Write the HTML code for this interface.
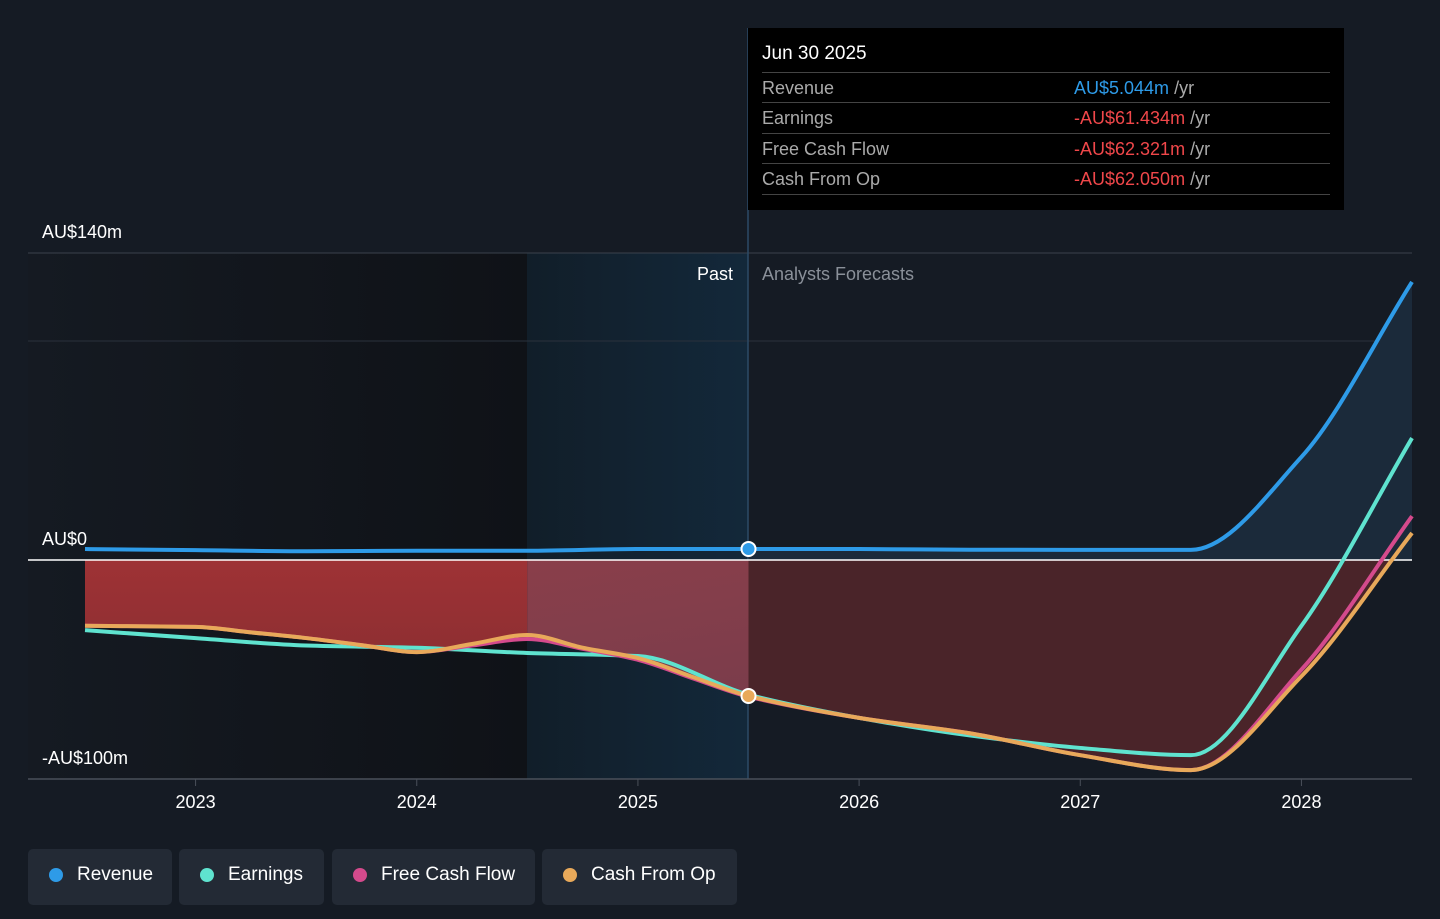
<!DOCTYPE html>
<html><head><meta charset="utf-8"><style>
body{margin:0;width:1440px;height:919px;background:#151b24;font-family:"Liberation Sans",sans-serif;overflow:hidden;position:relative}
svg{position:absolute;left:0;top:0}
.tt{position:absolute;left:748px;top:28px;width:596px;height:182px;background:#000;color:#fff}
.row{position:absolute;left:14px;width:568px;height:30px;border-top:1px solid #444;font-size:18px;line-height:30px;color:#aaa}
.row .v{position:absolute;left:312px}
.legend{position:absolute;top:849px;height:56px;background:#232a35;border-radius:5px;color:#fff;font-size:19px;line-height:52px;padding-left:49px;box-sizing:border-box}
.dot{position:absolute;left:21px;top:19px;width:14px;height:14px;border-radius:7px}
</style></head><body>
<svg width="1440" height="919">
<defs>
<linearGradient id="pastbg" x1="0" x2="1"><stop offset="0" stop-color="#151a22"/><stop offset="1" stop-color="#0f1217"/></linearGradient>
<linearGradient id="hl" x1="0" x2="1"><stop offset="0" stop-color="#111e29"/><stop offset="1" stop-color="#13283a"/></linearGradient>
<linearGradient id="redf" x1="0" x2="0" y1="0" y2="1"><stop offset="0" stop-color="#a33336"/><stop offset="1" stop-color="#7a2a2e"/></linearGradient>
<linearGradient id="bandf" x1="0" x2="1" y1="0" y2="1"><stop offset="0" stop-color="#93404a"/><stop offset="1" stop-color="#6a3a4c"/></linearGradient>
</defs>
<rect x="28" y="253" width="499" height="526" fill="url(#pastbg)"/>
<rect x="527" y="253" width="221" height="526" fill="url(#hl)"/>
<line x1="28" x2="1412" y1="253" y2="253" stroke="#3a414c"/>
<line x1="28" x2="1412" y1="341" y2="341" stroke="#2a313c"/>
<line x1="748" x2="748" y1="28" y2="779" stroke="#2c4a66" stroke-width="1.5"/>
<g id="g"></g>
<line x1="28" x2="1412" y1="779" y2="779" stroke="#4a505a" stroke-width="1.5"/>
<g id="ticks"></g>
<text x="42" y="238" fill="#fff" font-size="18">AU$140m</text>
<text x="42" y="545" fill="#fff" font-size="18">AU$0</text>
<text x="42" y="764" fill="#fff" font-size="18">-AU$100m</text>
<text x="733" y="280" fill="#fff" font-size="18" text-anchor="end">Past</text>
<text x="762" y="280" fill="#8a9099" font-size="18">Analysts Forecasts</text>
</svg>
<div class="tt">
<div style="position:absolute;left:14px;top:15px;font-size:19px">Jun 30 2025</div>
<div class="row" style="top:44px">Revenue<span class="v"><span style="color:#2e9be8">AU$5.044m</span> /yr</span></div>
<div class="row" style="top:74px">Earnings<span class="v"><span style="color:#f0474a">-AU$61.434m</span> /yr</span></div>
<div class="row" style="top:105px">Free Cash Flow<span class="v"><span style="color:#f0474a">-AU$62.321m</span> /yr</span></div>
<div class="row" style="top:135px;border-bottom:1px solid #444">Cash From Op<span class="v"><span style="color:#f0474a">-AU$62.050m</span> /yr</span></div>
</div>
<div class="legend" style="left:28px;width:144px"><span class="dot" style="background:#2e9be8"></span>Revenue</div>
<div class="legend" style="left:179px;width:145px"><span class="dot" style="background:#5fe3cf"></span>Earnings</div>
<div class="legend" style="left:332px;width:203px"><span class="dot" style="background:#d44a8c"></span>Free Cash Flow</div>
<div class="legend" style="left:542px;width:195px"><span class="dot" style="background:#e8a95a"></span>Cash From Op</div>
<script>
const years=[2023,2024,2025,2026,2027,2028];
const tRev=[2022.5,2023,2023.5,2024,2024.5,2025,2025.5,2026,2026.5,2027,2027.5,2028,2028.5];
const revenue=[5,4.5,4,4.2,4.2,5,5.04,5,4.7,4.6,4.6,47,126.8];
const tEarn=[2022.5,2023,2023.5,2024,2024.5,2025,2025.5,2026,2026.5,2027,2027.5,2028,2028.5];
const earnings=[-32,-35.6,-39,-40,-42.4,-43.8,-61.4,-72,-80,-85.7,-89,-30,55.6];
const tCash=[2022.5,2023,2023.25,2023.5,2023.75,2024,2024.25,2024.5,2024.75,2025,2025.25,2025.5,2026,2026.5,2027,2027.5,2028,2028.5];
const fcf=[-30,-30.5,-33,-35.6,-38.8,-42,-39,-36,-40.5,-45.5,-54,-62.3,-72,-79,-89,-95.8,-50,20];
const cfo=[-30,-30.5,-33,-35.6,-38.8,-42,-38.3,-34.2,-40,-44.7,-53.4,-62,-72,-79,-89,-95.8,-53,12.3];
const X=t=>85+(t-2022.5)*221.17, Y=v=>560-v*2.193;
function path(ts,vs){const p=ts.map((t,i)=>[X(t),Y(vs[i])]);const n=p.length;const d=[],m=[];
for(let i=0;i<n-1;i++)d.push((p[i+1][1]-p[i][1])/(p[i+1][0]-p[i][0]));
for(let i=0;i<n;i++){if(i==0)m.push(d[0]);else if(i==n-1)m.push(d[n-2]);else if(d[i-1]*d[i]<=0)m.push(0);else{m.push(2/(1/d[i-1]+1/d[i]));}}
let s='M'+p[0];for(let i=0;i<n-1;i++){const h=(p[i+1][0]-p[i][0])/3;s+=`C${p[i][0]+h},${p[i][1]+m[i]*h} ${p[i+1][0]-h},${p[i+1][1]-m[i+1]*h} ${p[i+1][0]},${p[i+1][1]}`;}return s;}
const g=document.getElementById('g'),NS='http://www.w3.org/2000/svg';
function add(tag,at,name){const e=document.createElementNS(NS,tag);for(const k in at)e.setAttribute(k,at[k]);


g.appendChild(e);return e;}
const cp=path(tCash,cfo), rp=path(tRev,revenue);
const xm=X(2025.5), xb=X(2024.5);
add('clipPath',{id:'cl'},'clip').innerHTML=`<rect x="0" y="0" width="${xb}" height="919"/>`;
add('clipPath',{id:'cb'},'clip').innerHTML=`<rect x="${xb}" y="0" width="${xm-xb}" height="919"/>`;
add('clipPath',{id:'cr'},'clip').innerHTML=`<rect x="${xm}" y="0" width="800" height="${Y(0)}"/>`;
add('clipPath',{id:'crb'},'clip').innerHTML=`<rect x="${xm}" y="${Y(0)}" width="800" height="400"/>`;
const area=cp+`L${X(2028.5)},${Y(0)}L${X(2022.5)},${Y(0)}Z`;
add('path',{d:area,fill:'url(#redf)','clip-path':'url(#cl)'},'loss-area-past');
add('path',{d:area,fill:'url(#bandf)','clip-path':'url(#cb)'},'loss-area-band');
add('path',{d:area,fill:'#4a2429','clip-path':'url(#crb)'},'loss-area-forecast');
add('path',{d:rp+`L${X(2028.5)},${Y(0)}L${X(2022.5)},${Y(0)}Z`,fill:'#1b2a3a','clip-path':'url(#cr)'},'revenue-area-forecast');
add('line',{x1:28,x2:1412,y1:Y(0),y2:Y(0),stroke:'#fff','stroke-width':1.5},'zero-line');
add('path',{d:path(tEarn,earnings),fill:'none',stroke:'#5fe3cf','stroke-width':4},'earnings-line');
add('path',{d:path(tCash,fcf),fill:'none',stroke:'#d44a8c','stroke-width':4},'fcf-line');
add('path',{d:cp,fill:'none',stroke:'#e8a95a','stroke-width':4},'cfo-line');
add('path',{d:rp,fill:'none',stroke:'#2e9be8','stroke-width':4},'revenue-line');
add('circle',{cx:xm,cy:Y(revenue[6]),r:7,fill:'#2e9be8',stroke:'#fff','stroke-width':2},'revenue-marker');
add('circle',{cx:xm,cy:Y(cfo[11]),r:7,fill:'#e8a95a',stroke:'#fff','stroke-width':2},'cfo-marker');
const tk=document.getElementById('ticks');
years.forEach(y=>{const l=document.createElementNS(NS,'line');l.setAttribute('x1',X(y));l.setAttribute('x2',X(y));l.setAttribute('y1',779);l.setAttribute('y2',786);l.setAttribute('stroke','#4a505a');


tk.appendChild(l);
const t=document.createElementNS(NS,'text');t.setAttribute('x',X(y));t.setAttribute('y',808);t.setAttribute('fill','#fff');t.setAttribute('font-size','18');t.setAttribute('text-anchor','middle');t.textContent=y;


tk.appendChild(t);});
</script>
</body></html>
